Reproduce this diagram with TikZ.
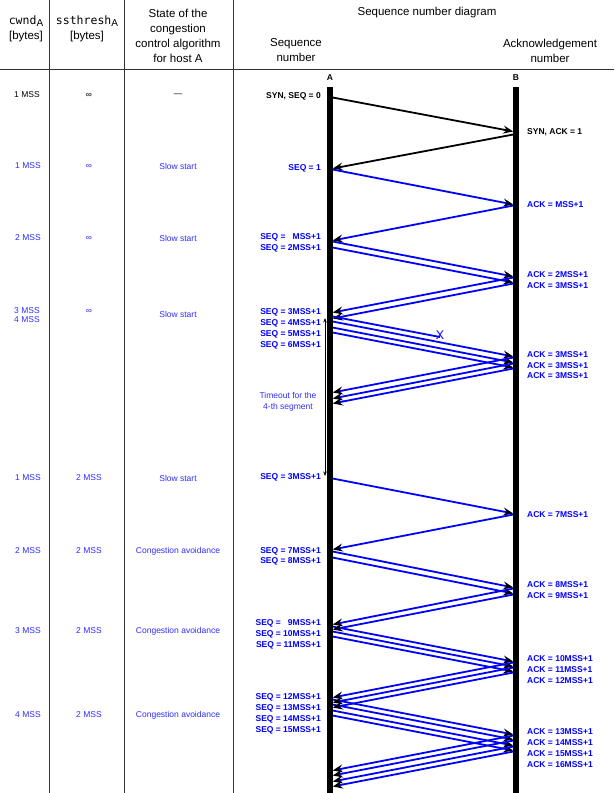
\documentclass[tikz,border=0pt]{standalone}
\usepackage{fontspec}
\setmainfont{Liberation Sans}
\setmonofont{DejaVu Sans Mono}
\usetikzlibrary{arrows.meta}

\definecolor{seqblue}{RGB}{0,0,255}
\definecolor{txtblue}{RGB}{45,45,255}

\begin{document}
\begin{tikzpicture}[x=1pt, y=-1pt,
    head/.style = {font=\fontsize{11.5}{15}\selectfont, align=center, inner sep=0pt},
    cell/.style = {font=\fontsize{8.5}{11}\selectfont, text=txtblue, align=center, inner sep=0pt},
    lbl/.style = {font=\fontsize{8.5}{11}\selectfont\bfseries, text=seqblue, inner sep=0pt},
    msg/.style = {seqblue, line width=1.8pt, -{Stealth[black, length=10pt, width=8pt, inset=3.5pt]}, shorten >=2.8pt},
    life/.style = {line width=5.5pt},
    grid/.style = {black!80, line width=1pt}]
    \useasboundingbox (0,0) rectangle (614,793);

    \draw[grid] (49,0) -- (49,793);
    \draw[grid] (124,0) -- (124,793);
    \draw[grid] (233,0) -- (233,793);
    \draw[grid] (0,69) -- (614,69);

    \node[head] (hcwnd) at (26,28.5) {\texttt{cwnd}\raisebox{-0.35ex}{\fontsize{10}{10}\selectfont A}\\{[bytes]}};
    \node[head] (hssth) at (87,28.5) {\texttt{ssthresh}\raisebox{-0.35ex}{\fontsize{10}{10}\selectfont A}\\{[bytes]}};
    \node[head] (hstate) at (178,36) {State of the\\congestion\\control algorithm\\for host A};
    \node[head] (hdiag) at (427,13) {Sequence number diagram};
    \node[head] (hseq) at (296,50.5) {Sequence\\number};
    \node[head] (hack) at (550,50.5) {Acknowledgement\\number};

    \node[cell, text=black] (cw0) at (27,95) {1 MSS};
    \node[cell, text=black] (ss0) at (89,95) {∞};
    \node[cell, text=black] (st0) at (178,95) {\textemdash};
    \foreach \y/\cw/\ss/\st [count=\i] in {166/1 MSS/∞/Slow start, 238/2 MSS/∞/Slow start,
        478/1 MSS/2 MSS/Slow start, 551/2 MSS/2 MSS/Congestion avoidance,
        631/3 MSS/2 MSS/Congestion avoidance, 715/4 MSS/2 MSS/Congestion avoidance} {
        \node[cell] (cw\i) at (28,\y) {\cw};
        \node[cell] (ss\i) at (89,\y) {\ss};
        \node[cell] (st\i) at (178,\y) {\st};
    }
    \node[cell, font=\fontsize{8.5}{9}\selectfont] (cw7) at (27,315.5) {3 MSS\\4 MSS};
    \node[cell] (ss7) at (89,311) {∞};
    \node[cell] (st7) at (178,314) {Slow start};

    \node[lbl, text=black] (A) at (330,78) {A};
    \node[lbl, text=black] (B) at (516,78) {B};
    \coordinate (Atop) at (330,87);
    \coordinate (Abot) at (330,793);
    \coordinate (Btop) at (516,87);
    \coordinate (Bbot) at (516,793);

    \coordinate (syn) at (330,97);
    \coordinate (synB) at (516,132);
    \coordinate (synack) at (516,134);
    \coordinate (synackA) at (330,169);
    \draw[msg, black] (syn) -- (synB);
    \draw[msg, black] (synack) -- (synackA);

    \foreach \ya/\yb [count=\i] in {169/205, 241/277, 247/283, 321/357, 327/363, 332/368,
        478/514, 551/588, 557/594, 626/662, 631/667, 636/672,
        699/735, 704/740, 710/746, 715/751} {
        \coordinate (sa\i) at (330,\ya);
        \coordinate (sb\i) at (516,\yb);
        \draw[msg] (sa\i) -- (sb\i);
    }
    \foreach \yb/\ya [count=\i] in {205/241, 277/313, 283/319, 357/393, 363/399, 368/404,
        514/550, 588/625, 594/630, 662/698, 667/703, 672/708,
        735/771, 740/776, 746/782, 751/787} {
        \coordinate (ab\i) at (516,\yb);
        \coordinate (aa\i) at (330,\ya);
        \draw[msg] (ab\i) -- (aa\i);
    }

    \coordinate (lostA) at (330,316);
    \coordinate (lostend) at (440,337);
    \draw[seqblue, line width=1.8pt] (lostA) -- (lostend);
    \node[text=seqblue, font=\fontsize{12.5}{12}\selectfont, inner sep=0pt] (lost) at (440,335) {X};

    \coordinate (toTop) at (325,318);
    \coordinate (toBot) at (325,476);
    \draw[{Stealth[length=4.5pt, width=3.5pt]}-{Stealth[length=4.5pt, width=3.5pt]}, line width=0.8pt] (toTop) -- (toBot);
    \node[cell] (tolbl) at (288,401.5) {Timeout for the\\4-th segment};

    \node[lbl, text=black, anchor=east] (seq0) at (321,96) {SYN, SEQ = 0};
    \foreach \y/\t [count=\i] in {168/1, 237/\phantom{2}MSS+1, 248/2MSS+1,
        312/3MSS+1, 323/4MSS+1, 334/5MSS+1, 345/6MSS+1, 477/3MSS+1,
        551/7MSS+1, 561/8MSS+1, 623/\phantom{1}9MSS+1, 634/10MSS+1, 645/11MSS+1,
        697/12MSS+1, 708/13MSS+1, 719/14MSS+1, 730/15MSS+1} {
        \node[lbl, anchor=east] (seq\i) at (321,\y) {SEQ = \t};
    }
    \node[lbl, text=black, anchor=west] (ack0) at (527,132) {SYN, ACK = 1};
    \foreach \y/\t [count=\i] in {205/MSS+1, 275/2MSS+1, 286/3MSS+1,
        355/3MSS+1, 366/3MSS+1, 376/3MSS+1, 515/7MSS+1,
        585/8MSS+1, 596/9MSS+1, 659/10MSS+1, 670/11MSS+1, 681/12MSS+1,
        732/13MSS+1, 743/14MSS+1, 754/15MSS+1, 765/16MSS+1} {
        \node[lbl, anchor=west] (ack\i) at (527,\y) {ACK = \t};
    }

    \draw[life] (Atop) -- (Abot);
    \draw[life] (Btop) -- (Bbot);
\end{tikzpicture}
\end{document}
